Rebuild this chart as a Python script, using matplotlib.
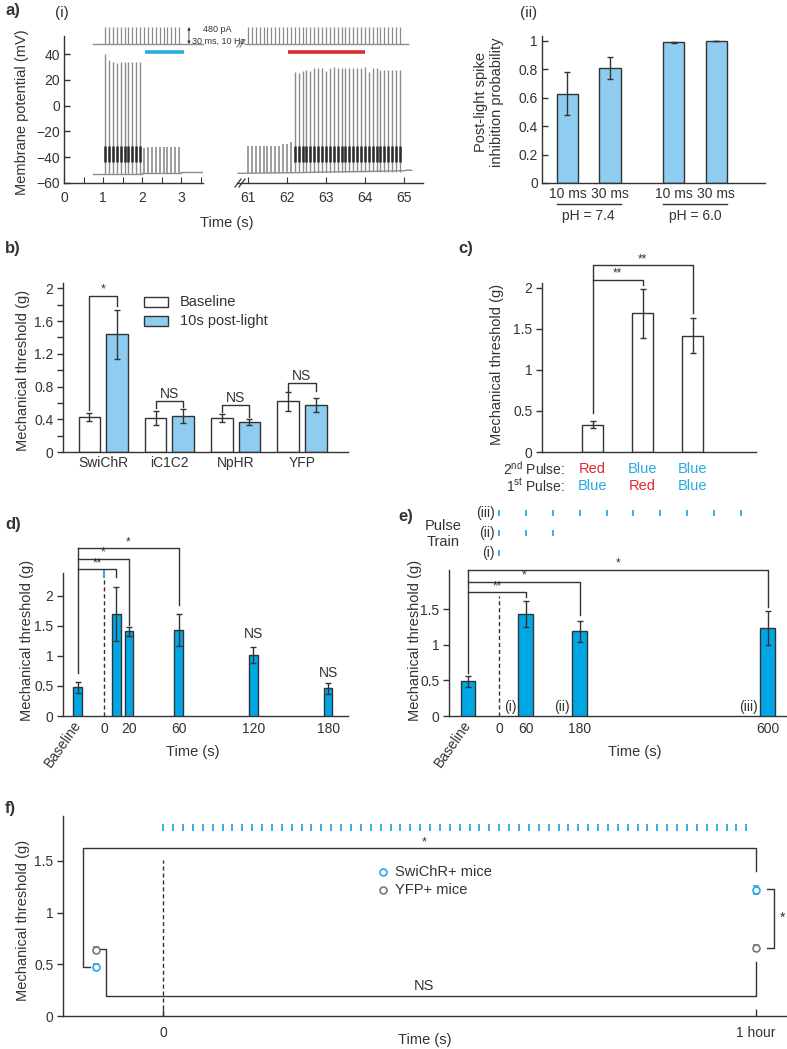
import numpy as np
import matplotlib
matplotlib.use('Agg')
import matplotlib.pyplot as plt
from matplotlib.lines import Line2D
from matplotlib.patches import Rectangle

plt.rcParams['font.family'] = ['Liberation Sans', 'DejaVu Sans']
plt.rcParams['mathtext.fontset'] = 'custom'
plt.rcParams['mathtext.rm'] = 'Liberation Sans'
plt.rcParams['axes.linewidth'] = 1.0

DARK = '#333333'
TRACE = '#8c8c8c'
LIGHT_BLUE = '#8fcdf0'
BLUE = '#00a7e5'
TXT_BLUE = '#29abe2'
RED = '#dd2a30'
GREY = '#7a7a7a'
TICK = 10
LABEL = 10.5

# ---------------- data ----------------
# a(i) current clamp, 30 ms pulses at 10 Hz
stim_left_t = np.round(np.arange(1.05, 3.0, 0.1), 2)
stim_right_t = np.round(np.arange(61.0, 65.0, 0.1), 2)
left_spike_peaks = [40, 35, 34, 33, 34, 34, 34, 34, 34, 34]
left_sub_peaks = [-33, -32, -32, -32, -32, -32, -32, -32, -32, -32]
right_sub_peaks = [-31, -31, -31, -31, -31, -31, -31, -31, -31, -30, -30, -28]
right_spike_peaks = [26, 25, 27, 28, 27, 29, 29, 29, 27, 29, 30, 29, 29, 29,
                     29, 29, 29, 29, 30, 26, 29, 29, 28, 28, 28, 28, 28, 28]
left_base_t = [0.74, 2.0, 2.0, 3.0, 3.0, 3.55]
left_base_v = [-53, -53, -52, -52, -51.5, -51.5]
right_base_t = [60.75, 62.2, 65.0, 65.1, 65.2]
right_base_v = [-52.5, -52, -50.5, -50, -50.2]

# a(ii)
pulse_labels = ['10 ms', '30 ms', '10 ms', '30 ms']
ph_labels = ['pH = 7.4', 'pH = 6.0']
inhib_prob = [0.63, 0.81, 0.99, 1.0]
inhib_err = [0.15, 0.075, 0.004, 0.0]

# b
opsins = ['SwiChR', 'iC1C2', 'NpHR', 'YFP']
b_baseline = [0.43, 0.42, 0.42, 0.62]
b_baseline_err = [0.05, 0.085, 0.05, 0.115]
b_post = [1.44, 0.44, 0.37, 0.58]
b_post_err = [0.30, 0.085, 0.035, 0.085]
b_sig = ['*', 'NS', 'NS', 'NS']

# c
second_pulse = ['Red', 'Blue', 'Blue']
first_pulse = ['Blue', 'Red', 'Blue']
c_vals = [0.335, 1.69, 1.42]
c_err = [0.045, 0.30, 0.215]

# d
d_times = [10, 20, 60, 120, 180]
d_baseline, d_baseline_err = 0.48, 0.09
d_vals = [1.70, 1.41, 1.43, 1.02, 0.46]
d_err = [0.45, 0.075, 0.27, 0.135, 0.095]

# e
e_times = [60, 180, 600]
e_train = ['(i)', '(ii)', '(iii)']
e_pulse_counts = [1, 3, 10]  # one pulse every 60 s
e_baseline, e_baseline_err = 0.49, 0.08
e_vals = [1.44, 1.19, 1.24]
e_err = [0.18, 0.15, 0.24]

# f
f_labels = ['SwiChR+ mice', 'YFP+ mice']
swichr_vals = [0.47, 1.22]
swichr_err = [0.03, 0.04]
yfp_vals = [0.64, 0.66]
yfp_err = [0.03, 0.03]
f_pulses_per_hour = 60

# ---------------- figure helpers ----------------
W, H = 787, 1049
fig = plt.figure(figsize=(W / 100, H / 100), dpi=100)


def add_ax(left, top, right, bottom):
    return fig.add_axes([left / W, 1 - bottom / H, (right - left) / W, (bottom - top) / H])


def ftext(x, y, s, **kw):
    kw.setdefault('fontsize', LABEL)
    kw.setdefault('color', DARK)
    return fig.text(x / W, 1 - y / H, s, **kw)


def fline(xs, ys, **kw):
    kw.setdefault('color', DARK)
    kw.setdefault('lw', 1)
    fig.add_artist(Line2D([x / W for x in xs], [1 - y / H for y in ys], **kw))


def clean(ax, ydir='out'):
    for s in ('top', 'right'):
        ax.spines[s].set_visible(False)
    for s in ('left', 'bottom'):
        ax.spines[s].set_color(DARK)
    ax.tick_params(axis='y', direction=ydir, length=4, width=1, colors=DARK, labelsize=TICK, pad=3)
    ax.tick_params(axis='x', colors=DARK, labelsize=TICK)


def bracket(ax, x1, x2, y, y1, y2, label, fs=9, dy=0.0):
    ax.plot([x1, x1, x2, x2], [y1, y, y, y2], color=DARK, lw=1, clip_on=False)
    ax.text((x1 + x2) / 2, y + dy, label, ha='center', va='bottom', fontsize=fs,
            color=DARK, clip_on=False)


err_kw = dict(ecolor=DARK, capsize=2.5, elinewidth=1, capthick=1)

# ---------------- a(i) ----------------
axL = add_ax(64, 36, 203, 183)
axR = add_ax(237, 36, 423, 183)
axL.set_xlim(0, 3.56)
axR.set_xlim(60.72, 65.49)
for ax in (axL, axR):
    ax.set_ylim(-60, 54)
    clean(ax, ydir='in')
    ax.tick_params(axis='x', direction='in', length=4, pad=6)
axR.spines['left'].set_visible(False)
axR.tick_params(axis='y', left=False, labelleft=False)
axL.set_yticks(range(-60, 41, 20))
axL.set_xticks([0, 1, 2, 3])
axL.set_xticks([0.5, 1.5, 2.5, 3.5], minor=True)
axL.tick_params(axis='x', which='minor', direction='in', length=4)
axR.set_xticks([61, 62, 63, 64, 65])

axL.plot(left_base_t, left_base_v, color=TRACE, lw=1)
axL.vlines(stim_left_t[:10], -53, left_spike_peaks, color=TRACE, lw=1.0)
axL.vlines(stim_left_t[:10], -44, -31, color='#2a2a2a', lw=1.8)
axL.vlines(stim_left_t[10:], -52, left_sub_peaks, color=TRACE, lw=1.2)
axR.plot(right_base_t, right_base_v, color=TRACE, lw=1)
axR.vlines(stim_right_t[:12], -52.3, right_sub_peaks, color=TRACE, lw=1.2)
axR.vlines(stim_right_t[12:], -51.5, right_spike_peaks, color=TRACE, lw=1.0)
axR.vlines(stim_right_t[12:], -44, -31, color='#2a2a2a', lw=1.8)

# stimulus trace
stim_lo, stim_hi = 47.75, 60.9
axL.plot([0.74, 3.55], [stim_lo, stim_lo], color=TRACE, lw=1, clip_on=False)
axL.vlines(stim_left_t, stim_lo, stim_hi, color=TRACE, lw=0.9, clip_on=False)
axR.plot([60.93, 65.1], [stim_lo, stim_lo], color=TRACE, lw=1, clip_on=False)
axR.vlines(stim_right_t, stim_lo, stim_hi, color=TRACE, lw=0.9, clip_on=False)
axL.annotate('', xy=(3.2, stim_hi), xytext=(3.2, stim_lo), annotation_clip=False,
             arrowprops=dict(arrowstyle='<|-|>', lw=0.6, color=DARK, mutation_scale=4,
                             shrinkA=0, shrinkB=0))
ftext(203, 30, '480 pA', fontsize=6.5, va='center')
ftext(192, 41, '30 ms, 10 Hz', fontsize=6.5, va='center')

# light bars
axL.plot([2.08, 3.08], [41.5, 41.5], color=TXT_BLUE, lw=2.6, solid_capstyle='butt', clip_on=False)
axR.plot([62.03, 64.0], [41.5, 41.5], color=RED, lw=2.6, solid_capstyle='butt', clip_on=False)

# axis breaks
fline([235, 241], [187, 179], lw=0.9)
fline([239, 245], [187, 179], lw=0.9)
fline([237, 242], [47, 40], color=TRACE, lw=0.9)
fline([240, 245], [47, 40], color=TRACE, lw=0.9)

ftext(22, 112, 'Membrane potential (mV)', rotation=90, ha='center', va='center')
ftext(227, 223, 'Time (s)', ha='center', va='center')
ftext(5, 11, 'a)', fontsize=12, fontweight='bold', va='center')
ftext(55, 13, '(i)', va='center', fontsize=11)
ftext(520, 13, '(ii)', va='center', fontsize=11)

# ---------------- a(ii) ----------------
axP = add_ax(542, 36, 765, 183)
clean(axP, ydir='in')
prob_pos = [1, 2, 3.5, 4.5]
axP.bar(prob_pos, inhib_prob, 0.5, color=LIGHT_BLUE, edgecolor=DARK, lw=1,
        yerr=inhib_err, error_kw=err_kw)
axP.set_xlim(0.4, 5.65)
axP.set_ylim(0, 1.035)
axP.set_yticks([0, 0.2, 0.4, 0.6, 0.8, 1.0])
axP.set_yticklabels(['0', '0.2', '0.4', '0.6', '0.8', '1'])
axP.set_xticks(prob_pos)
axP.set_xticklabels(pulse_labels)
axP.tick_params(axis='x', length=0, pad=3)
for (a, b), lab in zip([(0, 1), (2, 3)], ph_labels):
    x0, x1 = prob_pos[a] - 0.25, prob_pos[b] + 0.25
    axP.plot([x0, x1], [-0.143, -0.143], color=DARK, lw=1, clip_on=False,
             transform=axP.get_xaxis_transform())
    axP.text((x0 + x1) / 2, -0.224, lab, ha='center', va='center', fontsize=TICK,
             color=DARK, transform=axP.get_xaxis_transform())
ftext(489, 102, 'Post-light spike\ninhibition probability', rotation=90,
      ha='center', va='center', linespacing=1.15)

# ---------------- b ----------------
axb = add_ax(63, 283, 348, 452)
clean(axb)
gpos = np.arange(len(opsins))
axb.bar(gpos - 0.21, b_baseline, 0.33, color='white', edgecolor=DARK, lw=1,
        yerr=b_baseline_err, error_kw=err_kw)
axb.bar(gpos + 0.21, b_post, 0.33, color=LIGHT_BLUE, edgecolor=DARK, lw=1,
        yerr=b_post_err, error_kw=err_kw)
axb.set_xlim(-0.61, 3.70)
axb.set_ylim(0, 2.066)
axb.set_yticks([0, 0.4, 0.8, 1.2, 1.6, 2.0])
axb.set_yticklabels(['0', '0.4', '0.8', '1.2', '1.6', '2'])
axb.set_yticks(np.arange(0.2, 2.0, 0.4), minor=True)
axb.tick_params(axis='y', which='minor', direction='out', length=4, width=1, colors=DARK)
axb.set_xticks(gpos)
axb.set_xticklabels(opsins)
axb.tick_params(axis='x', length=0, pad=3)
b_br_y = [1.91, 0.62, 0.575, 0.845]
b_br_l = [0.51, 0.54, 0.49, 0.75]
b_br_r = [1.78, 0.55, 0.43, 0.745]
for i, s in enumerate(b_sig):
    bracket(axb, gpos[i] - 0.21, gpos[i] + 0.21, b_br_y[i], b_br_l[i], b_br_r[i], s,
            fs=9 if s == '*' else TICK)
for y0, fc, lab in [(297, 'white', 'Baseline'), (316, LIGHT_BLUE, '10s post-light')]:
    fig.add_artist(Rectangle((144 / W, 1 - (y0 + 10) / H), 24 / W, 10 / H,
                             transform=fig.transFigure, fc=fc, ec=DARK, lw=1))
    ftext(180, y0 + 5, lab, va='center')
ftext(23, 370, 'Mechanical threshold (g)', rotation=90, ha='center', va='center')
ftext(5, 249, 'b)', fontsize=12, fontweight='bold', va='center')

# ---------------- c ----------------
axc = add_ax(542, 283, 756, 452)
clean(axc)
cpos = [1, 2, 3]
axc.bar(cpos, c_vals, 0.42, color='white', edgecolor=DARK, lw=1, yerr=c_err, error_kw=err_kw)
axc.set_xlim(-0.01, 4.27)
axc.set_ylim(0, 2.06)
axc.set_yticks([0, 0.5, 1, 1.5, 2])
axc.set_yticklabels(['0', '0.5', '1', '1.5', '2'])
axc.set_xticks([])
bracket(axc, 1, 3, 2.28, 0.48, 1.70, '**', fs=8.5)
bracket(axc, 1, 2, 2.10, 2.10, 2.04, '**', fs=8.5)
xt = axc.get_xaxis_transform()
row2, row1 = -0.10, -0.20
axc.text(0.45, row2, r'2$^{\rm nd}$ Pulse:', ha='right', va='center', fontsize=10,
         color=DARK, transform=xt)
axc.text(0.45, row1, r'1$^{\rm st}$ Pulse:', ha='right', va='center', fontsize=10,
         color=DARK, transform=xt)
for x, p2, p1 in zip(cpos, second_pulse, first_pulse):
    axc.text(x, row2, p2, ha='center', va='center', fontsize=LABEL,
             color=RED if p2 == 'Red' else TXT_BLUE, transform=xt)
    axc.text(x, row1, p1, ha='center', va='center', fontsize=LABEL,
             color=RED if p1 == 'Red' else TXT_BLUE, transform=xt)
ftext(497, 364, 'Mechanical threshold (g)', rotation=90, ha='center', va='center')
ftext(458, 249, 'c)', fontsize=12, fontweight='bold', va='center')

# ---------------- d ----------------
axd = add_ax(63, 573, 348, 716)
clean(axd)
BASE_D = -21
axd.plot([0, 0], [0, 2.31], color=DARK, lw=1, ls=(0, (3, 2)))
axd.plot([0, 0], [2.31, 2.42], color=TXT_BLUE, lw=1.5, clip_on=False)
axd.bar([BASE_D] + d_times, [d_baseline] + d_vals, 7, color=BLUE, edgecolor=DARK, lw=1,
        yerr=[d_baseline_err] + d_err, error_kw=err_kw, zorder=3)
axd.set_xlim(-32.9, 196)
axd.set_ylim(0, 2.383)
axd.set_yticks([0, 0.5, 1, 1.5, 2])
axd.set_yticklabels(['0', '0.5', '1', '1.5', '2'])
axd.set_xticks([BASE_D, 0, 20, 60, 120, 180])
axd.set_xticklabels(['Baseline', '0', '20', '60', '120', '180'])
axd.tick_params(axis='x', length=0, pad=4)
lb = axd.get_xticklabels()[0]
lb.set_rotation(55)
lb.set_ha('right')
lb.set_va('center')
lb.set_rotation_mode('anchor')
axd.plot([BASE_D, BASE_D], [0.72, 2.80], color=DARK, lw=1, clip_on=False)
for y, t, yb, s in [(2.80, 60, 1.85, '*'), (2.62, 20, 1.52, '*'), (2.45, 10, 2.32, '**')]:
    bracket(axd, BASE_D, t, y, y, yb, s, fs=8.5)
axd.text(120, 1.37, 'NS', ha='center', va='center', fontsize=TICK, color=DARK)
axd.text(180, 0.72, 'NS', ha='center', va='center', fontsize=TICK, color=DARK)
ftext(27, 640, 'Mechanical threshold (g)', rotation=90, ha='center', va='center')
ftext(193, 752, 'Time (s)', ha='center', va='center')
ftext(5, 525, 'd)', fontsize=12, fontweight='bold', va='center')

# ---------------- e ----------------
axe = add_ax(449, 570, 786, 716)
clean(axe)
BASE_E = -69
axe.plot([0, 0], [0, 1.69], color=DARK, lw=1, ls=(0, (3, 2)))
axe.bar([BASE_E] + e_times, [e_baseline] + e_vals, 33, color=BLUE, edgecolor=DARK, lw=1,
        yerr=[e_baseline_err] + e_err, error_kw=err_kw, zorder=3)
axe.set_xlim(-111.6, 640.6)
axe.set_ylim(0, 2.056)
axe.set_yticks([0, 0.5, 1, 1.5])
axe.set_yticklabels(['0', '0.5', '1', '1.5'])
axe.set_xticks([BASE_E, 0] + e_times)
axe.set_xticklabels(['Baseline', '0'] + [str(t) for t in e_times])
axe.tick_params(axis='x', length=0, pad=4)
lb = axe.get_xticklabels()[0]
lb.set_rotation(55)
lb.set_ha('right')
lb.set_va('center')
lb.set_rotation_mode('anchor')
for t, lab in zip(e_times, e_train):
    axe.text(t - 16.5 - 5, 0.12, lab, ha='right', va='center', fontsize=TICK, color=DARK)
axe.plot([BASE_E, BASE_E], [0.60, 2.06], color=DARK, lw=1, clip_on=False)
for y, t, yb, s in [(2.06, 600, 1.53, '*'), (1.89, 180, 1.42, '*'), (1.74, 60, 1.68, '**')]:
    bracket(axe, BASE_E, t, y, y, yb, s, fs=8.5)
row_y = [2.296, 2.577, 2.859]
for y, lab, n in zip(row_y, e_train, e_pulse_counts):
    axe.vlines(np.arange(n) * 60, y - 0.045, y + 0.045, color=TXT_BLUE, lw=1.3, clip_on=False)
    axe.text(-9, y, lab, ha='right', va='center', fontsize=TICK, color=DARK)
ftext(443, 534, 'Pulse\nTrain', ha='center', va='center', linespacing=1.15)
ftext(415, 640, 'Mechanical threshold (g)', rotation=90, ha='center', va='center')
ftext(635, 752, 'Time (s)', ha='center', va='center')
ftext(398, 517, 'e)', fontsize=12, fontweight='bold', va='center')

# ---------------- f ----------------
axf = add_ax(63, 816, 787, 1016)
clean(axf)
BASE_F = -0.113
f_x = [BASE_F, 1.0]
axf.plot([0, 0], [0, 1.51], color=DARK, lw=1, ls=(0, (3, 2)))
axf.vlines(np.arange(f_pulses_per_hour) / f_pulses_per_hour, 1.785, 1.852,
           color=TXT_BLUE, lw=1.3)
for vals, errs, col in [(swichr_vals, swichr_err, TXT_BLUE), (yfp_vals, yfp_err, GREY)]:
    axf.errorbar(f_x, vals, yerr=errs, fmt='o', ms=5, mfc='white', mec=col, mew=1.2,
                 ecolor=col, elinewidth=1, capsize=2.5, capthick=1, zorder=3)
axf.set_xlim(-0.169, 1.052)
axf.set_ylim(0, 1.934)
axf.set_yticks([0, 0.5, 1, 1.5])
axf.set_yticklabels(['0', '0.5', '1', '1.5'])
axf.set_xticks([0, 1])
axf.set_xticklabels(['0', '1 hour'])
axf.tick_params(axis='x', direction='in', length=5, width=1, pad=7)
axf.plot([-0.123, -0.135, -0.135, 1.0, 1.0], [0.47, 0.47, 1.62, 1.62, 1.40], color=DARK, lw=1)
axf.text(0.44, 1.62, '*', ha='center', va='bottom', fontsize=9, color=DARK)
axf.plot([-0.106, -0.096, -0.096, 1.0, 1.0], [0.65, 0.65, 0.19, 0.19, 0.52], color=DARK, lw=1)
axf.text(0.44, 0.22, 'NS', ha='center', va='bottom', fontsize=LABEL, color=DARK)
axf.plot([1.0185, 1.030, 1.030, 1.0185], [1.23, 1.23, 0.66, 0.66], color=DARK, lw=1, clip_on=False)
axf.text(1.045, 0.95, '*', ha='center', va='center', fontsize=10, color=DARK, clip_on=False)
for y, col, lab in [(1.393, TXT_BLUE, f_labels[0]), (1.219, GREY, f_labels[1])]:
    axf.plot([0.371], [y], 'o', ms=5, mfc='white', mec=col, mew=1.2)
    axf.text(0.391, y, lab, ha='left', va='center', fontsize=LABEL, color=DARK)
ftext(23, 920, 'Mechanical threshold (g)', rotation=90, ha='center', va='center')
ftext(425, 1040, 'Time (s)', ha='center', va='center')
ftext(5, 808, 'f)', fontsize=12, fontweight='bold', va='center')

fig.savefig('out.png', dpi=100)
